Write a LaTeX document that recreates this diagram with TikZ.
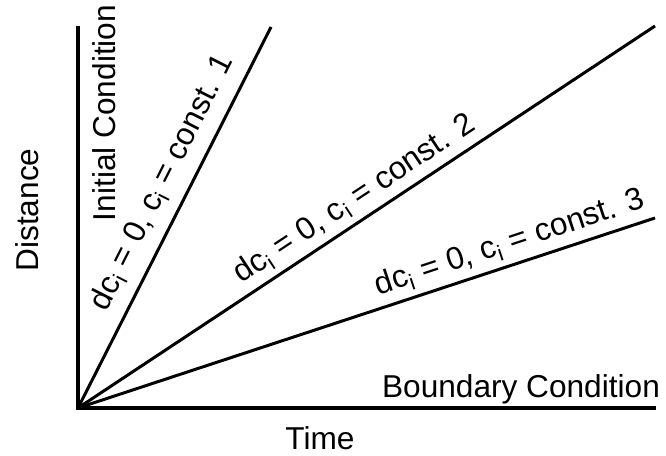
\documentclass[tikz,border=0pt]{standalone}
\usepackage{fontspec}
\setmainfont{Liberation Sans}
\begin{document}
\begin{tikzpicture}[line width=1.7pt, font=\fontsize{18}{21}\selectfont]
\useasboundingbox (0,0) rectangle (13.32,9.1);
\coordinate (o) at (1.56,0.94);
\coordinate (ytop) at (1.56,8.58);
\coordinate (xend) at (13.12,0.94);
\coordinate (e1) at (5.42,8.56);
\coordinate (e2) at (13.10,8.58);
\coordinate (e3) at (13.10,4.74);
\draw[line width=2.2pt] (ytop) -- (o) -- (xend);
\draw (o) -- (e1) node[pos=0.56, sloped, above=3pt] (l1) {dc\textsubscript{i} = 0, c\textsubscript{i} = const. 1};
\draw (o) -- (e2) node[pos=0.50, sloped, above] (l2) {dc\textsubscript{i} = 0, c\textsubscript{i} = const. 2};
\draw (o) -- (e3) node[pos=0.76, sloped, above] (l3) {dc\textsubscript{i} = 0, c\textsubscript{i} = const. 3};
\node[rotate=90] (dist) at (0.54,4.90) {Distance};
\node (time) at (6.40,0.34) {Time};
\node[rotate=90] (ic) at (2.08,6.84) {Initial Condition};
\node (bc) at (10.42,1.32) {Boundary Condition};
\end{tikzpicture}
\end{document}
